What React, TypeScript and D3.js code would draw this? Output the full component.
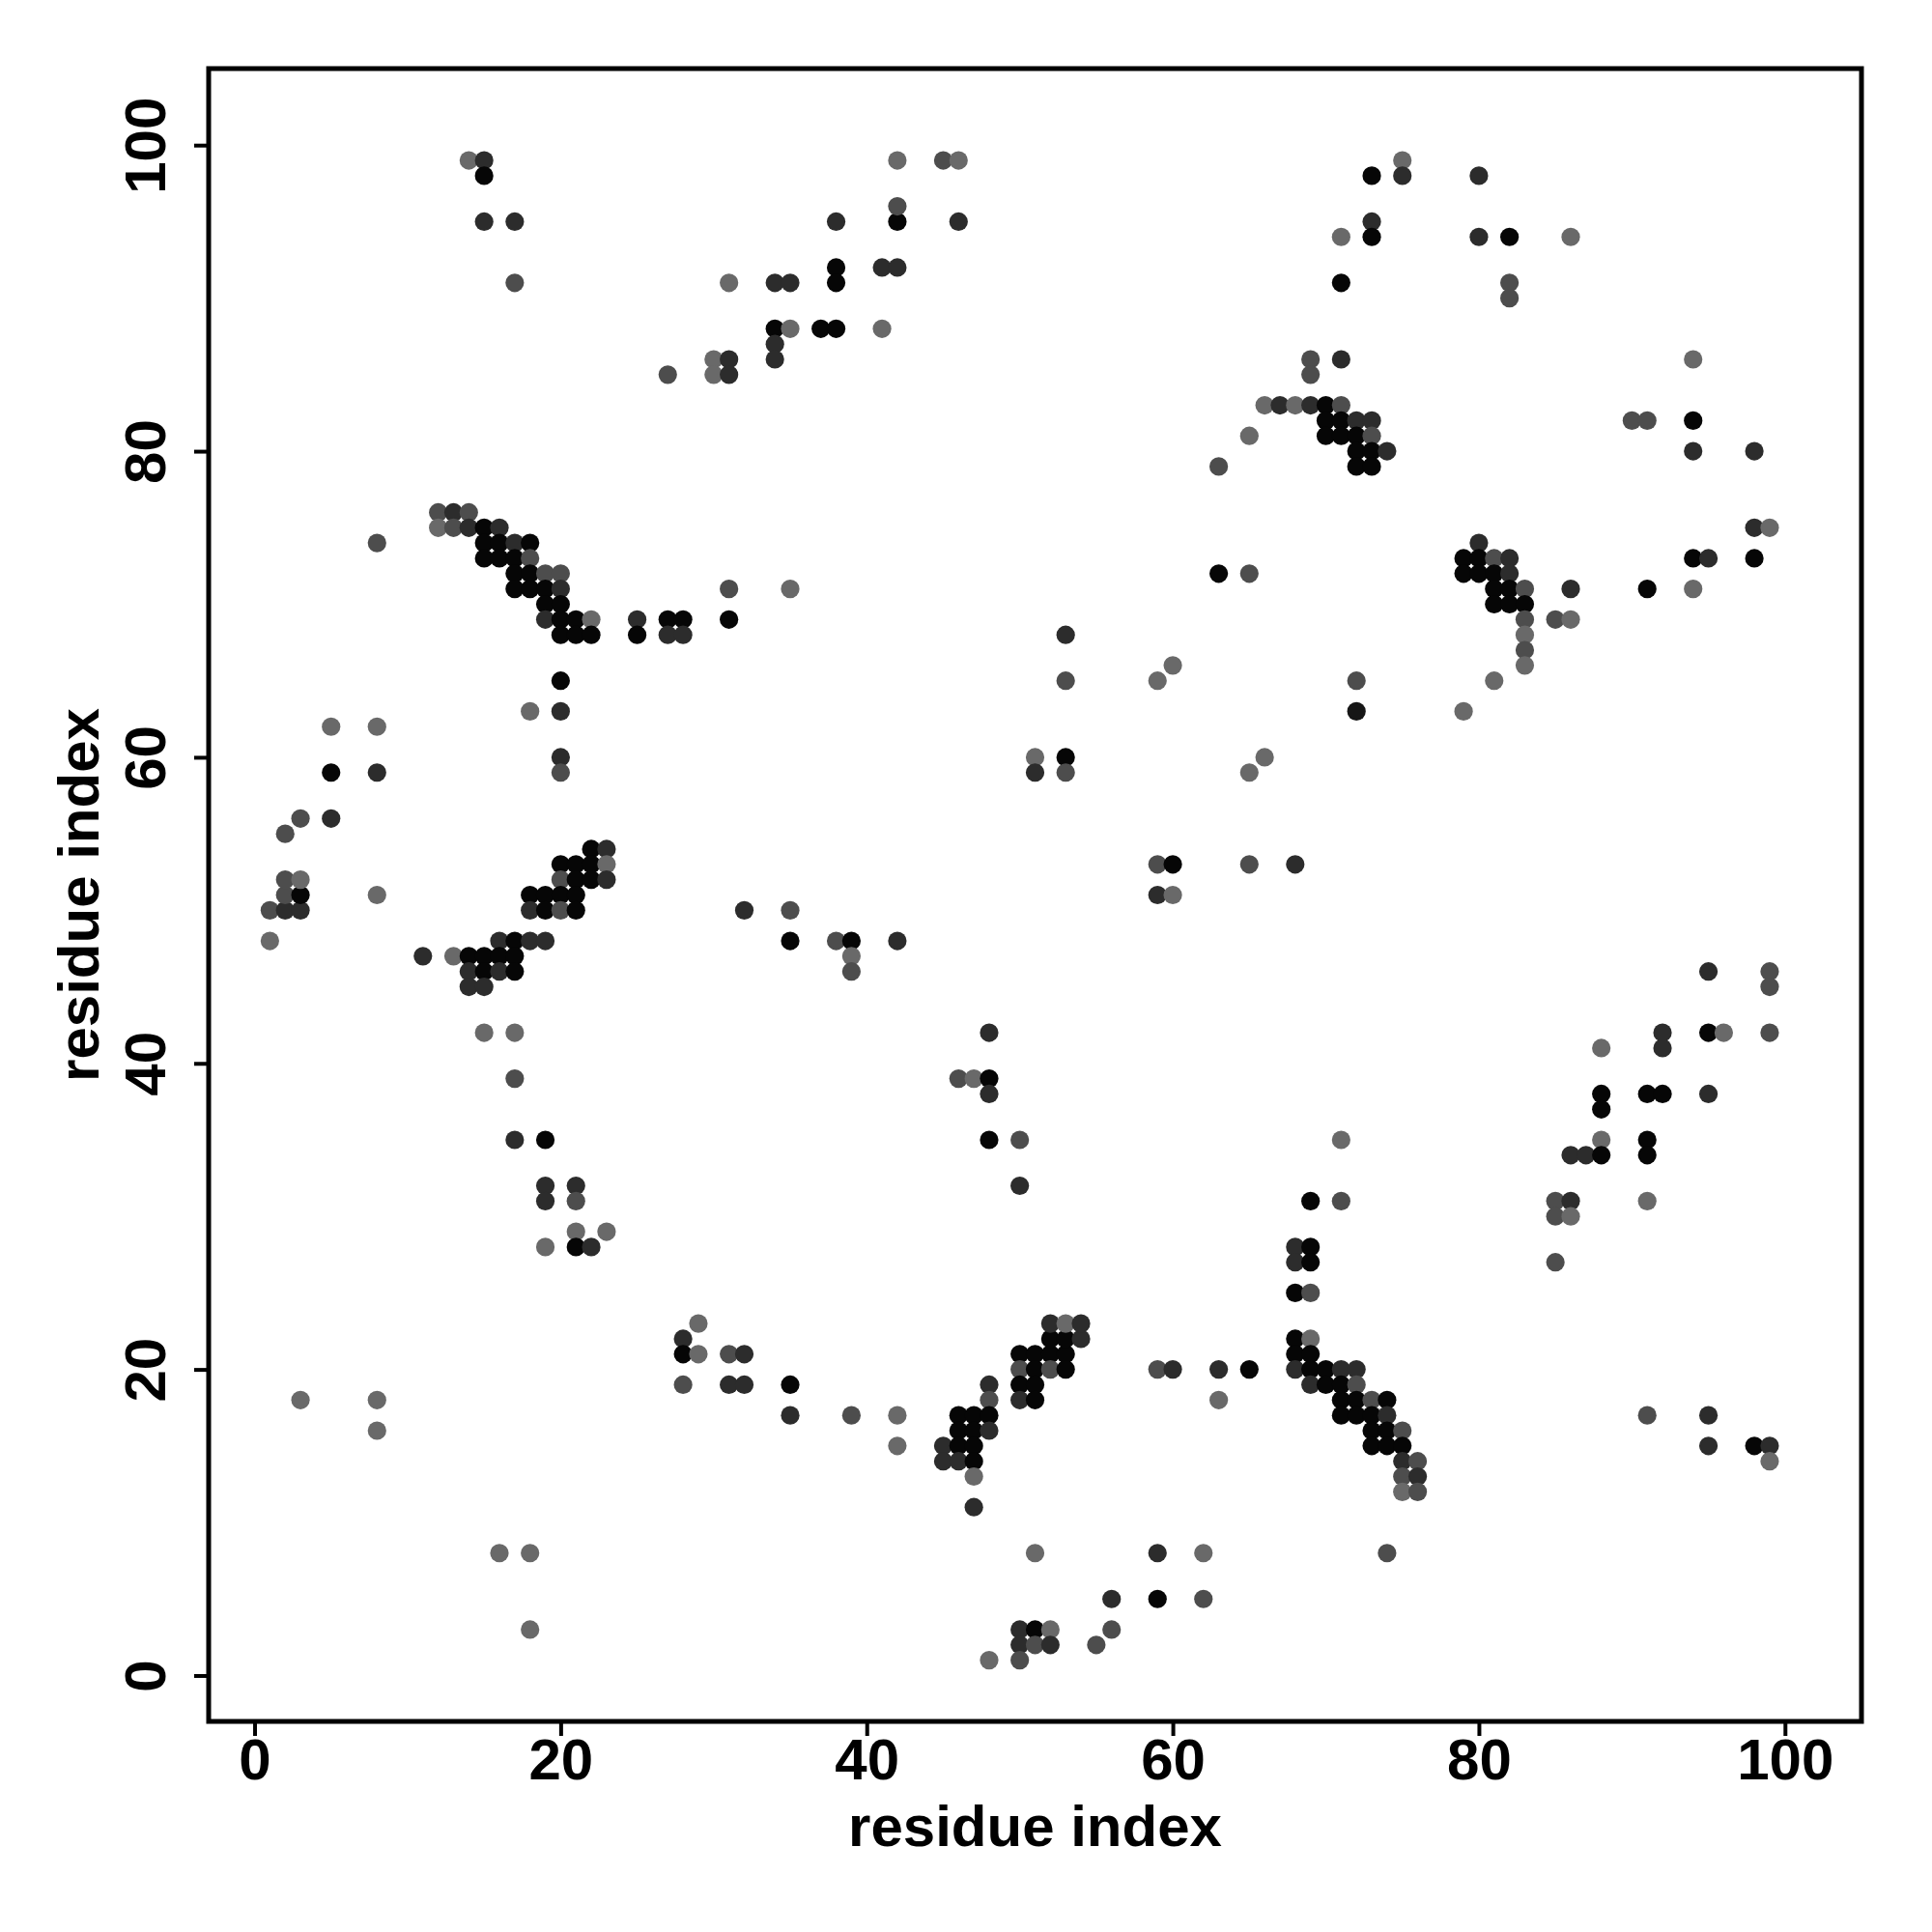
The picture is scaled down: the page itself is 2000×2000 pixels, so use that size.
import React, { useEffect, useRef } from 'react'
import * as d3 from 'd3'

// each contact: [residue i, residue j, confidence 0..1]
type Contact = [number, number, number]
const K = 0.95
const D = 0.6
const M = 0.3
const L = 0.05

const topLeftPatch: Contact[] = [
  [14, 99, L], [15, 99, D], [15, 98, K], [15, 95, D], [17, 95, D], [17, 91, M]
]

const topStrand: Contact[] = [
  [27, 85, M], [30, 86, L], [31, 86, D], [30, 85, L], [31, 85, D], [31, 91, L],
  [34, 91, D], [35, 91, D], [34, 88, K], [35, 88, L], [34, 87, D], [34, 86, D],
  [37, 88, K], [38, 88, K], [38, 95, D], [38, 92, K], [38, 91, K],
  [41, 92, D], [42, 92, D], [41, 88, L], [42, 95, K], [42, 96, M], [42, 99, L],
  [45, 99, M], [46, 99, L], [46, 95, D]
]

const upperRight: Contact[] = [
  [73, 98, K], [75, 99, L], [75, 98, D], [80, 98, D], [73, 95, D], [73, 94, K],
  [71, 94, L], [80, 94, D], [82, 94, K], [86, 94, L], [71, 91, K], [82, 91, M], [82, 90, M],
  [69, 86, M], [69, 85, M], [71, 86, D],
  [66, 83, L], [67, 83, D], [68, 83, L], [69, 83, D], [70, 83, K], [71, 83, M],
  [70, 82, K], [71, 82, K], [72, 82, D], [73, 82, D],
  [70, 81, K], [71, 81, K], [72, 81, K], [73, 81, M],
  [72, 80, K], [73, 80, K], [74, 80, D],
  [72, 79, K], [73, 79, K],
  [65, 81, L], [63, 79, M],
  [90, 82, M], [91, 82, M], [94, 82, K], [94, 86, L], [94, 80, D], [98, 80, D]
]

const upperHelix: Contact[] = [
  [12, 76, M], [13, 76, D], [14, 76, M],
  [12, 75, L], [13, 75, M], [14, 75, D], [15, 75, K], [16, 75, D],
  [15, 74, K], [16, 74, K], [17, 74, D], [18, 74, K],
  [15, 73, K], [16, 73, K], [17, 73, K], [18, 73, M],
  [17, 72, K], [18, 72, K], [19, 72, M], [20, 72, M],
  [17, 71, K], [18, 71, K], [19, 71, K], [20, 71, D],
  [19, 70, K], [20, 70, K],
  [19, 69, D], [20, 69, K], [21, 69, K], [22, 69, L],
  [20, 68, K], [21, 68, K], [22, 68, K],
  [25, 69, D], [25, 68, K], [27, 69, K], [28, 69, K], [27, 68, D], [28, 68, D],
  [31, 71, M], [31, 69, K], [35, 71, L], [8, 74, M]
]

const leftStubs: Contact[] = [
  [20, 65, K], [18, 63, L], [20, 63, D], [20, 60, D], [20, 59, M],
  [5, 62, L], [8, 62, L], [5, 59, K], [8, 59, D], [5, 56, D], [3, 56, M], [2, 55, M],
  [1, 50, M], [2, 50, D], [3, 50, D], [2, 51, M], [3, 51, K], [2, 52, M], [3, 52, L],
  [1, 48, L], [8, 51, L]
]

const middleHelix: Contact[] = [
  [22, 54, K], [23, 54, D],
  [20, 53, K], [21, 53, K], [22, 53, K], [23, 53, L],
  [20, 52, M], [21, 52, K], [22, 52, K], [23, 52, D],
  [18, 51, K], [19, 51, K], [20, 51, K], [21, 51, K],
  [18, 50, D], [19, 50, K], [20, 50, M], [21, 50, K],
  [16, 48, D], [17, 48, K], [18, 48, D], [19, 48, D],
  [11, 47, D], [13, 47, L], [14, 47, K], [15, 47, K], [16, 47, K], [17, 47, K],
  [14, 46, D], [15, 46, K], [16, 46, D], [17, 46, K],
  [14, 45, D], [15, 45, D]
]

const lowerLeftStubs: Contact[] = [
  [15, 42, L], [17, 42, L], [17, 39, M], [17, 35, D], [19, 35, K], [19, 32, D], [21, 32, D],
  [19, 31, D], [21, 31, M], [21, 29, L], [23, 29, L], [19, 28, L], [21, 28, K], [22, 28, D]
]

const centerPatch: Contact[] = [
  [32, 50, D], [35, 50, M], [35, 48, K], [38, 48, M], [39, 48, K], [42, 48, D], [39, 47, L], [39, 46, M],
  [48, 42, D], [46, 39, M], [47, 39, L], [48, 39, K], [48, 38, D], [48, 35, K], [50, 35, M], [50, 32, D],
  [53, 68, D], [53, 65, M], [60, 66, L], [59, 65, L], [51, 60, L], [53, 60, K], [51, 59, D], [53, 59, M],
  [66, 60, L], [65, 59, L],
  [59, 53, M], [60, 53, K], [65, 53, M], [68, 53, D], [59, 51, D], [60, 51, L],
  [63, 72, K], [65, 72, M], [72, 65, M], [72, 63, 0.8], [79, 63, L], [81, 65, L]
]

const rightSheet: Contact[] = [
  [98, 75, D], [99, 75, L], [80, 74, D],
  [79, 73, K], [80, 73, K], [81, 73, M], [82, 73, D], [94, 73, K], [95, 73, D], [98, 73, K],
  [79, 72, K], [80, 72, K], [81, 72, K], [82, 72, D],
  [81, 71, K], [82, 71, K], [83, 71, M], [86, 71, D], [91, 71, K], [94, 71, L],
  [81, 70, K], [82, 70, K], [83, 70, K],
  [83, 69, M], [85, 69, M], [86, 69, L],
  [83, 68, L], [83, 67, M], [83, 66, L]
]

const lowerRight: Contact[] = [
  [95, 46, D], [99, 46, M], [99, 45, M],
  [92, 42, D], [95, 42, K], [96, 42, L], [99, 42, M], [92, 41, D], [88, 41, L],
  [88, 38, K], [91, 38, K], [92, 38, K], [95, 38, D], [88, 37, K],
  [88, 35, L], [91, 35, K], [86, 34, D], [87, 34, D], [88, 34, K], [91, 34, K],
  [85, 31, M], [86, 31, D], [91, 31, L], [85, 30, M], [86, 30, L], [85, 27, M],
  [71, 35, L], [71, 31, M],
  [91, 17, M], [95, 17, D], [95, 15, D], [98, 15, K], [99, 15, D], [99, 14, L]
]

const lowerHairpin: Contact[] = [
  [69, 31, K], [68, 28, D], [69, 28, K], [68, 27, D], [69, 27, K], [68, 25, K], [69, 25, M],
  [68, 22, K], [69, 22, L], [68, 21, K], [69, 21, K],
  [68, 20, D], [69, 20, K], [70, 20, K], [71, 20, D], [72, 20, D],
  [69, 19, D], [70, 19, K], [71, 19, K], [72, 19, M],
  [71, 18, K], [72, 18, K], [73, 18, M], [74, 18, K],
  [71, 17, K], [72, 17, K], [73, 17, K], [74, 17, D],
  [73, 16, K], [74, 16, K], [75, 16, M],
  [73, 15, K], [74, 15, K], [75, 15, K],
  [75, 14, D], [76, 14, M],
  [75, 13, M], [76, 13, D],
  [75, 12, L], [76, 12, M],
  [74, 8, M]
]

const lowerStrand: Contact[] = [
  [45, 15, D], [45, 14, D], [46, 17, K], [46, 16, K], [46, 15, K], [46, 14, D],
  [47, 17, K], [47, 16, K], [47, 15, K], [47, 14, K], [47, 13, L], [47, 11, D],
  [48, 19, D], [48, 18, M], [48, 17, K], [48, 16, D],
  [50, 21, K], [51, 21, K], [52, 21, K], [53, 21, K],
  [50, 20, M], [51, 20, K], [52, 20, M], [53, 20, K],
  [50, 19, K], [51, 19, K], [50, 18, D], [51, 18, K],
  [52, 22, K], [53, 22, K], [54, 22, D],
  [52, 23, D], [53, 23, L], [54, 23, D]
]

const bottomScatter: Contact[] = [
  [28, 22, D], [28, 21, K], [29, 23, L], [29, 21, L], [28, 19, M], [31, 21, M], [32, 21, D],
  [31, 19, D], [32, 19, D], [35, 19, K], [35, 17, D], [39, 17, M], [42, 17, L], [42, 15, L],
  [3, 18, L], [8, 18, L], [8, 16, L], [16, 8, L], [18, 8, L], [18, 3, L],
  [59, 20, M], [60, 20, D], [63, 20, D], [65, 20, K], [63, 18, L],
  [51, 8, L], [59, 8, D], [62, 8, L], [56, 5, D], [59, 5, K], [62, 5, M],
  [50, 3, D], [51, 3, K], [52, 3, L], [50, 2, D], [51, 2, M], [52, 2, D],
  [55, 2, M], [56, 3, M], [48, 1, L], [50, 1, M]
]

const contacts: Contact[] = [
  ...topLeftPatch, ...topStrand, ...upperRight, ...upperHelix, ...leftStubs,
  ...middleHelix, ...lowerLeftStubs, ...centerPatch, ...rightSheet, ...lowerRight,
  ...lowerHairpin, ...lowerStrand, ...bottomScatter
]

const tickValues = [0, 20, 40, 60, 80, 100]
const axisTitle = 'residue index'

const App = () => {
  const ref = useRef<SVGSVGElement>(null)
  const width = 2000
  const height = 2000
  const margin = { top: 71, right: 73, bottom: 218, left: 216 }
  const font = '"Liberation Sans", Arial, Helvetica, sans-serif'
  const fontSize = 60

  useEffect(() => {
    const svg = d3.select(ref.current)
    svg.selectAll('*').remove()

    const x = d3.scaleLinear().domain([-3, 105]).range([margin.left, width - margin.right])
    const y = d3.scaleLinear().domain([-3, 105]).range([height - margin.bottom, margin.top])
    const shade = d3.scaleLinear<string>().domain([0, 1]).range(['#6e6e6e', '#000000'])

    svg.append('rect')
      .attr('width', width).attr('height', height).attr('fill', '#ffffff')

    svg.append('g')
      .selectAll('circle')
      .data(contacts)
      .join('circle')
      .attr('cx', d => x(d[0]))
      .attr('cy', d => y(d[1]))
      .attr('r', 9.6)
      .attr('fill', d => shade(d[2]))

    // plot frame
    svg.append('rect')
      .attr('x', margin.left)
      .attr('y', margin.top)
      .attr('width', width - margin.left - margin.right)
      .attr('height', height - margin.top - margin.bottom)
      .attr('fill', 'none')
      .attr('stroke', '#000')
      .attr('stroke-width', 5)

    const xAxis = svg.append('g')
      .attr('transform', `translate(0,${height - margin.bottom})`)
      .call(d3.axisBottom(x).tickValues(tickValues).tickSize(15))
    xAxis.select('.domain').remove()
    xAxis.selectAll('line').attr('stroke-width', 4)
    xAxis.selectAll('text')
      .attr('y', 60).attr('dy', null)
      .attr('font-size', fontSize).attr('font-weight', 'bold').attr('font-family', font).attr('fill', '#000')

    const yAxis = svg.append('g')
      .attr('transform', `translate(${margin.left},0)`)
      .call(d3.axisLeft(y).tickValues(tickValues).tickSize(15))
    yAxis.select('.domain').remove()
    yAxis.selectAll('line').attr('stroke-width', 4)
    yAxis.selectAll('text')
      .attr('x', null).attr('dy', null)
      .attr('text-anchor', 'middle')
      .attr('transform', `translate(${171 - margin.left},0) rotate(-90)`)
      .attr('font-size', fontSize).attr('font-weight', 'bold').attr('font-family', font).attr('fill', '#000')

    svg.append('text')
      .attr('x', (margin.left + width - margin.right) / 2)
      .attr('y', 1911)
      .attr('text-anchor', 'middle')
      .attr('font-size', fontSize).attr('font-weight', 'bold').attr('font-family', font)
      .text(axisTitle)

    svg.append('text')
      .attr('transform', `translate(102,${(margin.top + height - margin.bottom) / 2}) rotate(-90)`)
      .attr('text-anchor', 'middle')
      .attr('font-size', fontSize).attr('font-weight', 'bold').attr('font-family', font)
      .text(axisTitle)
  }, [])

  return (
    <svg
      ref={ref}
      width={width}
      height={height}
      style={{ position: 'absolute', left: 0, top: 0 }}
    />
  )
}

export default App
